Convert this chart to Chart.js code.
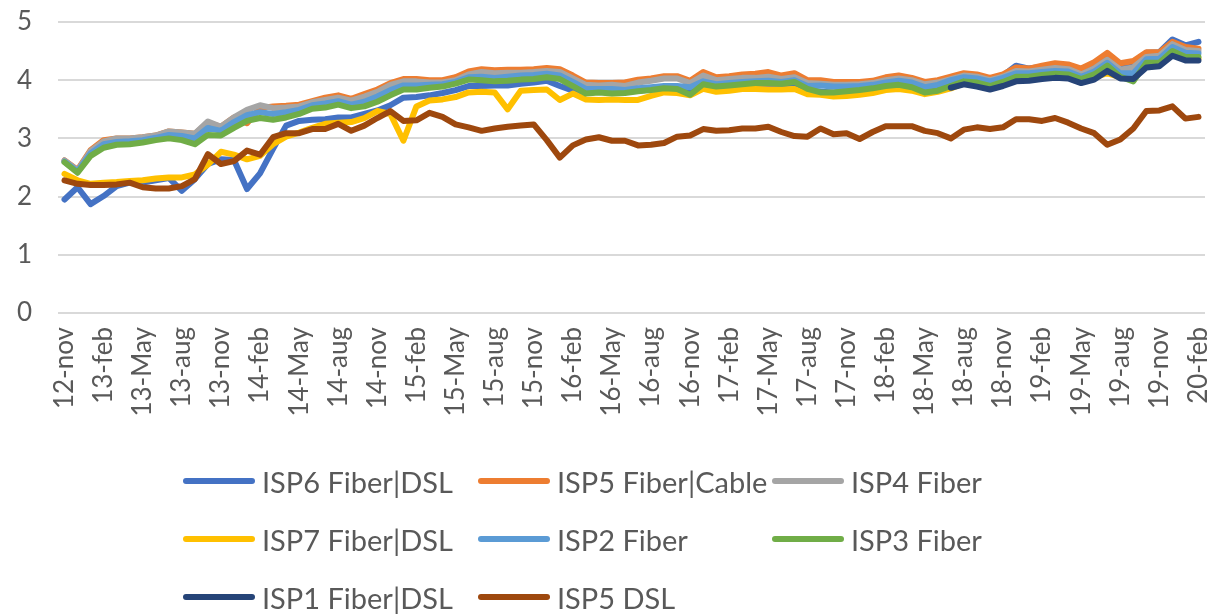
<!DOCTYPE html>
<html>
<head>
<meta charset="utf-8">
<script src="https://cdn.jsdelivr.net/npm/chart.js@4.4.1/dist/chart.umd.min.js"></script>
<style>
  body { margin: 0; background: #fff; font-family: Lato, "Open Sans", sans-serif; }
  #wrap { position: relative; width: 1213px; height: 614px; }
  #legenda { position: absolute; left: 0; top: 0; width: 1213px; height: 614px; pointer-events: none; }
  .item { position: absolute; display: flex; align-items: center; height: 40px; color: #595959; font-size: 29px; white-space: nowrap; }
  .item span.linha { display: inline-block; width: 72px; height: 6px; border-radius: 3px; margin-right: 7px; }
</style>
</head>
<body>
<div id="wrap">
  <canvas id="grafico" width="1213" height="614"></canvas>
  <div id="legenda"></div>
</div>
<script>
// === Dados ===
const meses = ["jan", "feb", "mar", "apr", "May", "jun", "jul", "aug", "sep", "okt", "nov", "des"];
const anoInicio = 12, mesInicio = 10, totalMeses = 88; // 12-nov ... 20-feb

const isp6FiberDsl = [1.95, 2.16, 1.87, 2.01, 2.18, 2.24, 2.24, 2.28, 2.32, 2.10,
  2.30, 2.56, 2.64, 2.63, 2.13, 2.40, 2.82, 3.22, 3.30, 3.32,
  3.33, 3.36, 3.36, 3.42, 3.48, 3.57, 3.70, 3.71, 3.74, 3.78,
  3.83, 3.90, 3.90, 3.91, 3.91, 3.94, 3.96, 3.99, 3.90, 3.82,
  3.80, 3.80, 3.82, 3.80, 3.82, 3.84, 3.87, 3.86, 3.78, 3.93,
  3.88, 3.90, 3.92, 3.93, 3.94, 3.92, 3.95, 3.83, 3.80, 3.79,
  3.80, 3.82, 3.85, 3.89, 3.92, 3.92, 3.84, 3.88, 3.96, 4.03,
  4.02, 3.98, 4.08, 4.25, 4.20, 4.23, 4.25, 4.23, 4.12, 4.22,
  4.36, 4.22, 4.28, 4.47, 4.48, 4.70, 4.60, 4.66];

const isp5FiberCable = [2.62, 2.46, 2.80, 2.97, 3.00, 3.00, 3.02, 3.05, 3.12, 3.10,
  3.08, 3.27, 3.20, 3.36, 3.26, 3.52, 3.55, 3.56, 3.58, 3.64,
  3.70, 3.74, 3.68, 3.76, 3.84, 3.95, 4.02, 4.02, 4.00, 4.00,
  4.05, 4.15, 4.19, 4.17, 4.18, 4.18, 4.19, 4.21, 4.19, 4.08,
  3.96, 3.95, 3.95, 3.96, 4.01, 4.03, 4.07, 4.07, 3.99, 4.14,
  4.05, 4.07, 4.10, 4.11, 4.14, 4.08, 4.12, 4.00, 4.00, 3.97,
  3.97, 3.97, 3.99, 4.05, 4.08, 4.04, 3.97, 4.00, 4.06, 4.12,
  4.10, 4.04, 4.10, 4.22, 4.20, 4.25, 4.29, 4.27, 4.20, 4.31,
  4.47, 4.29, 4.33, 4.48, 4.48, 4.66, 4.57, 4.54];

const isp4Fiber = [2.62, 2.45, 2.78, 2.95, 3.00, 3.00, 3.02, 3.05, 3.12, 3.10,
  3.08, 3.29, 3.20, 3.36, 3.49, 3.57, 3.52, 3.53, 3.55, 3.62,
  3.66, 3.70, 3.65, 3.72, 3.80, 3.92, 3.98, 3.98, 3.96, 3.96,
  4.00, 4.10, 4.14, 4.12, 4.13, 4.13, 4.14, 4.16, 4.14, 4.03,
  3.92, 3.91, 3.92, 3.90, 3.96, 3.99, 4.03, 4.03, 3.95, 4.08,
  4.00, 4.02, 4.04, 4.04, 4.06, 4.02, 4.05, 3.95, 3.94, 3.92,
  3.92, 3.93, 3.95, 4.00, 4.03, 4.00, 3.93, 3.96, 4.02, 4.08,
  4.06, 4.00, 4.06, 4.16, 4.15, 4.18, 4.21, 4.19, 4.10, 4.20,
  4.35, 4.18, 4.22, 4.40, 4.42, 4.62, 4.52, 4.50];

const isp7FiberDsl = [2.39, 2.28, 2.22, 2.24, 2.25, 2.27, 2.28, 2.31, 2.33, 2.33,
  2.38, 2.55, 2.77, 2.72, 2.64, 2.70, 2.90, 3.03, 3.10, 3.18,
  3.25, 3.27, 3.28, 3.35, 3.47, 3.42, 2.96, 3.55, 3.65, 3.67,
  3.71, 3.79, 3.80, 3.79, 3.50, 3.82, 3.83, 3.84, 3.66, 3.77,
  3.67, 3.66, 3.67, 3.66, 3.66, 3.73, 3.79, 3.78, 3.74, 3.85,
  3.80, 3.82, 3.85, 3.85, 3.84, 3.84, 3.85, 3.76, 3.75, 3.72,
  3.73, 3.75, 3.78, 3.83, 3.85, 3.82, 3.76, 3.80, 3.86, 3.95,
  3.92, 3.86, 3.93, 4.02, 4.03, 4.05, 4.07, 4.06, 3.98, 4.05,
  4.12, 4.05, 4.03, 4.26, 4.27, 4.47, 4.38, 4.37];

const isp2Fiber = [2.60, 2.43, 2.74, 2.90, 2.94, 2.95, 2.97, 3.01, 3.06, 3.04,
  3.00, 3.18, 3.13, 3.28, 3.40, 3.45, 3.42, 3.45, 3.49, 3.57,
  3.60, 3.64, 3.58, 3.63, 3.72, 3.83, 3.91, 3.91, 3.92, 3.93,
  3.97, 4.05, 4.06, 4.04, 4.06, 4.08, 4.09, 4.11, 4.08, 3.97,
  3.85, 3.85, 3.85, 3.83, 3.86, 3.88, 3.90, 3.90, 3.88, 3.98,
  3.93, 3.95, 3.97, 3.98, 3.99, 3.97, 4.00, 3.90, 3.91, 3.89,
  3.89, 3.90, 3.92, 3.96, 3.99, 3.96, 3.88, 3.92, 4.00, 4.05,
  4.03, 3.98, 4.04, 4.12, 4.12, 4.14, 4.16, 4.15, 4.06, 4.15,
  4.30, 4.12, 4.12, 4.36, 4.37, 4.57, 4.47, 4.46];

const isp3Fiber = [2.59, 2.41, 2.70, 2.84, 2.89, 2.90, 2.93, 2.97, 3.00, 2.97,
  2.90, 3.06, 3.05, 3.18, 3.30, 3.35, 3.32, 3.36, 3.42, 3.51,
  3.53, 3.58, 3.52, 3.55, 3.63, 3.74, 3.84, 3.84, 3.87, 3.89,
  3.94, 4.01, 4.00, 3.98, 3.99, 4.01, 4.02, 4.05, 4.02, 3.90,
  3.77, 3.79, 3.77, 3.78, 3.81, 3.83, 3.86, 3.85, 3.75, 3.93,
  3.89, 3.91, 3.93, 3.95, 3.95, 3.94, 3.97, 3.85, 3.79, 3.79,
  3.81, 3.83, 3.86, 3.90, 3.92, 3.88, 3.79, 3.82, 3.90, 3.98,
  3.96, 3.90, 3.97, 4.06, 4.06, 4.09, 4.11, 4.10, 4.02, 4.10,
  4.25, 4.06, 3.98, 4.30, 4.30, 4.50, 4.40, 4.40];

// ISP1 only starts in 18-jul
const isp1FiberDsl = Array(68).fill(null).concat([3.87, 3.93,
  3.89, 3.84, 3.90, 3.98, 3.99, 4.02, 4.04, 4.03, 3.95, 4.01,
  4.16, 4.03, 4.02, 4.22, 4.24, 4.42, 4.34, 4.34]);

const isp5Dsl = [2.28, 2.22, 2.20, 2.20, 2.21, 2.24, 2.16, 2.14, 2.14, 2.18,
  2.30, 2.73, 2.56, 2.61, 2.79, 2.72, 3.02, 3.09, 3.09, 3.16,
  3.16, 3.25, 3.13, 3.22, 3.35, 3.47, 3.30, 3.31, 3.44, 3.37,
  3.24, 3.19, 3.13, 3.17, 3.20, 3.22, 3.24, 2.97, 2.67, 2.88,
  2.98, 3.02, 2.96, 2.96, 2.88, 2.89, 2.92, 3.03, 3.05, 3.16,
  3.13, 3.14, 3.17, 3.17, 3.20, 3.11, 3.04, 3.03, 3.17, 3.07,
  3.09, 2.99, 3.11, 3.21, 3.21, 3.21, 3.13, 3.09, 3.00, 3.15,
  3.19, 3.16, 3.19, 3.33, 3.33, 3.30, 3.35, 3.27, 3.17, 3.09,
  2.89, 2.98, 3.17, 3.47, 3.48, 3.55, 3.34, 3.37];

const nomes = ["ISP6 Fiber|DSL", "ISP5 Fiber|Cable", "ISP4 Fiber", "ISP7 Fiber|DSL",
  "ISP2 Fiber", "ISP3 Fiber", "ISP1 Fiber|DSL", "ISP5 DSL"];
const cores = ["#4472C4", "#ED7D31", "#A5A5A5", "#FFC000", "#5B9BD5", "#70AD47", "#264478", "#9E480E"];
const series = [isp6FiberDsl, isp5FiberCable, isp4Fiber, isp7FiberDsl, isp2Fiber, isp3Fiber, isp1FiberDsl, isp5Dsl];

// labels: 12-nov, 12-des, 13-jan ...
const labels = [];
for (let i = 0; i < totalMeses; i++) {
  const m = mesInicio + i;
  labels.push((anoInicio + Math.floor(m / 12)) + "-" + meses[m % 12]);
}

const datasets = series.map((dados, i) => ({
  label: nomes[i],
  data: dados,
  borderColor: cores[i],
  backgroundColor: cores[i],
  borderWidth: 6,
  borderJoinStyle: "round",
  borderCapStyle: "round",
  pointRadius: 0,
  tension: 0,
  order: series.length - i // later series on top, like Excel
}));

const fonteEixo = "'Liberation Sans Narrow', Lato";

// === Grafico ===
const ctx = document.getElementById("grafico").getContext("2d");
const grafico = new Chart(ctx, {
  type: "line",
  data: { labels: labels, datasets: datasets },
  options: {
    responsive: false,
    animation: false,
    devicePixelRatio: 1,
    layout: { padding: { top: 22, right: 8, left: 0, bottom: 0 } },
    plugins: { legend: { display: false }, tooltip: { enabled: false } },
    scales: {
      x: {
        offset: true,
        grid: { display: false, drawTicks: false },
        border: { display: false },
        afterFit: s => { s.height = 301; s.paddingLeft = 0; s.paddingRight = 0; },
        ticks: {
          autoSkip: false,
          minRotation: 90,
          maxRotation: 90,
          padding: 14,
          color: "#595959",
          font: { family: fonteEixo, size: 26 },
          callback: function (v, i) { return i % 3 === 0 ? this.getLabelForValue(v) : ""; }
        }
      },
      y: {
        min: 0,
        max: 5,
        grid: { color: "#D9D9D9", lineWidth: 2, drawTicks: false },
        border: { display: false },
        afterFit: s => { s.width = 58; s.paddingTop = 0; s.paddingBottom = 0; },
        ticks: {
          stepSize: 1,
          padding: 26,
          color: "#595959",
          font: { family: fonteEixo, size: 26 }
        }
      }
    }
  }
});

// === Legenda ===
const legenda = document.getElementById("legenda");
const colunasX = [183, 478, 772];
const linhasY = [481, 539, 597];
nomes.forEach((nome, i) => {
  const div = document.createElement("div");
  div.className = "item";
  div.style.left = colunasX[i % 3] + "px";
  div.style.top = (linhasY[Math.floor(i / 3)] - 20) + "px";
  div.innerHTML = '<span class="linha" style="background:' + cores[i] + '"></span>' + nome;
  legenda.appendChild(div);
});
</script>
</body>
</html>
